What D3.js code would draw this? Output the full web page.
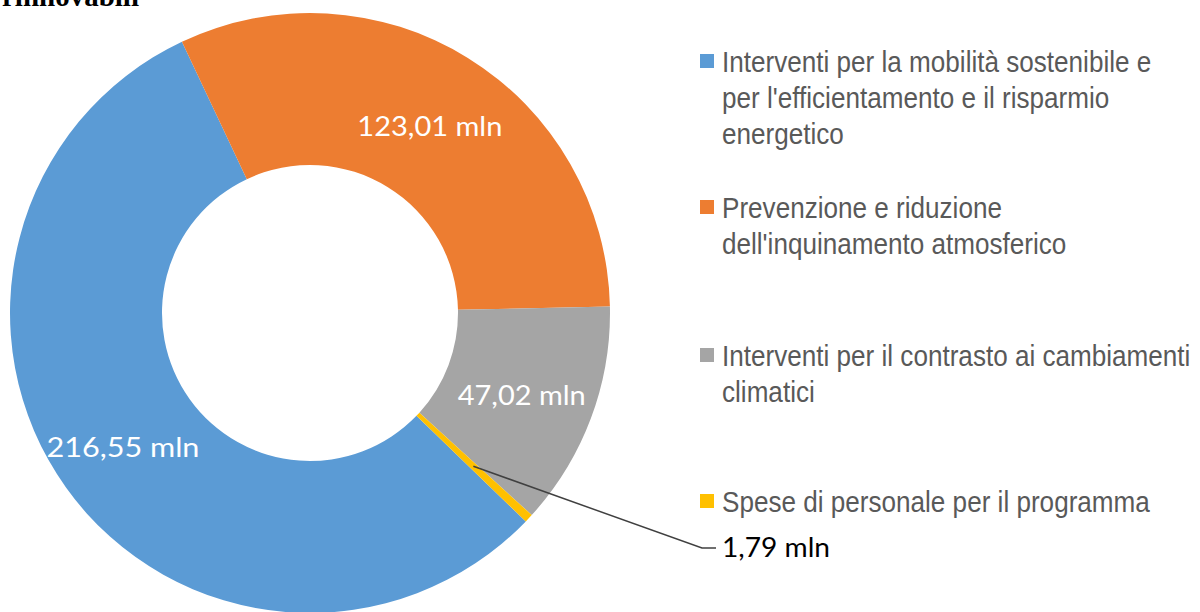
<!DOCTYPE html>
<html>
<head>
<meta charset="utf-8">
<script src="https://cdn.jsdelivr.net/npm/d3@7"></script>
<style>
  html, body { margin: 0; padding: 0; background: #fff; }
  svg { display: block; }
</style>
</head>
<body>
<svg id="chart" width="1200" height="612"></svg>
<script>
// ---- data ----
const categories = [
  "Interventi per la mobilità sostenibile e per l'efficientamento e il risparmio energetico",
  "Prevenzione e riduzione dell'inquinamento atmosferico",
  "Interventi per il contrasto ai cambiamenti climatici",
  "Spese di personale per il programma"
];
const legendLines = [
  ["Interventi per la mobilità sostenibile e", "per l'efficientamento e il risparmio", "energetico"],
  ["Prevenzione e riduzione", "dell'inquinamento atmosferico"],
  ["Interventi per il contrasto ai cambiamenti", "climatici"],
  ["Spese di personale per il programma"]
];
const values = [216.55, 123.01, 47.02, 1.79];
const colors = ["#5B9BD5", "#ED7D31", "#A5A5A5", "#FFC000"];
const unit = "mln";
const titleText = "rinnovabili";

// ---- layout ----
const svg = d3.select("#chart");
const cx = 310, cy = 313, R = 300, r = 148;
const locale = d3.formatLocale({decimal: ",", thousands: ".", grouping: [3], currency: ["", "€"]});
const fmt = locale.format(".2f");

// title fragment (cut at top)
svg.append("text")
  .attr("x", 2).attr("y", 6)
  .attr("font-family", "'Liberation Serif', 'Times New Roman', serif")
  .attr("font-weight", "bold")
  .attr("font-size", 29)
  .attr("fill", "#000")
  .text(titleText);

// start angle so that first slice (blue) ends at the top-left boundary
const total = d3.sum(values);
const start = (134.0) * Math.PI / 180;
const pie = d3.pie().sort(null).value(d => d).startAngle(start).endAngle(start + 2 * Math.PI);
const arcs = pie(values);
const arc = d3.arc().innerRadius(r).outerRadius(R);

const g = svg.append("g").attr("transform", `translate(${cx},${cy})`);
g.selectAll("path.slice").data(arcs).join("path")
  .attr("class", "slice")
  .attr("d", arc)
  .attr("fill", (d, i) => colors[i]);

// labels inside slices
const labelWidths = [153, 145, 128];
arcs.forEach((d, i) => {
  if (i === 3) return;
  const [x, y] = arc.centroid(d);
  g.append("text")
    .attr("x", x + (i === 0 ? -5 : 2)).attr("y", y + 4)
    .attr("dy", "0.35em")
    .attr("text-anchor", "middle")
    .attr("font-family", "Lato, 'Open Sans', sans-serif")
    .attr("font-size", 27)
    .attr("fill", "#fff")
    .attr("textLength", labelWidths[i])
    .attr("lengthAdjust", "spacingAndGlyphs")
    .text(fmt(values[i]) + " " + unit);
});

// leader line for the tiny slice
const small = arcs[3];
const [sx, sy] = arc.centroid(small);
const ex = 702 - cx, ey = 548 - cy;
g.append("polyline")
  .attr("points", `${sx},${sy} ${ex},${ey} ${ex + 14},${ey}`)
  .attr("fill", "none")
  .attr("stroke", "#404040")
  .attr("stroke-width", 1.5);
g.append("text")
  .attr("x", ex + 20).attr("y", ey)
  .attr("dy", "0.35em")
  .attr("font-family", "Lato, 'Open Sans', sans-serif")
  .attr("font-size", 27)
  .attr("fill", "#000")
  .attr("textLength", 108)
  .attr("lengthAdjust", "spacingAndGlyphs")
  .text(fmt(values[3]) + " " + unit);

// legend
const legendTop = [61, 207, 355, 501];
const lineH = 36;
const legend = svg.append("g");
legendLines.forEach((lines, i) => {
  const y0 = legendTop[i];
  legend.append("rect")
    .attr("x", 700).attr("y", y0 - 7)
    .attr("width", 14).attr("height", 14)
    .attr("fill", colors[i]);
  lines.forEach((ln, j) => {
    legend.append("text")
      .attr("transform", `translate(722,${y0 + j * lineH + 11}) scale(0.9,1)`)
      .attr("font-family", "'Liberation Sans', Arial, sans-serif")
      .attr("font-size", 29)
      .attr("fill", "#595959")
      .text(ln);
  });
});
</script>
</body>
</html>
